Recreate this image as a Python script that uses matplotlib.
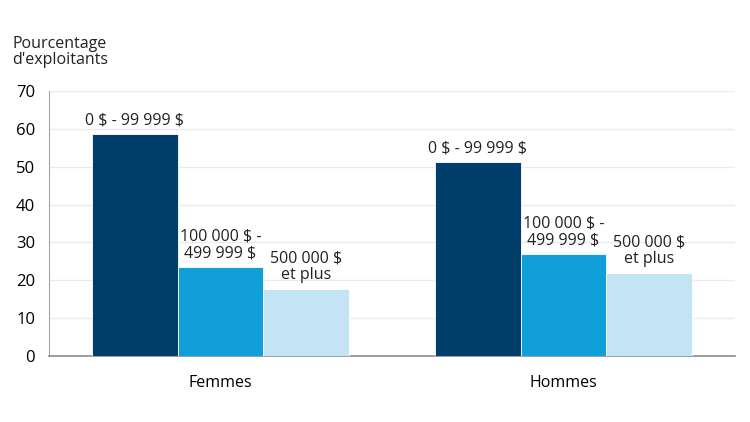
import matplotlib
matplotlib.use("Agg")
import matplotlib.pyplot as plt
import numpy as np

plt.rcParams['font.family'] = ['Open Sans', 'DejaVu Sans']

groups = ["Femmes", "Hommes"]
series_labels = ["0 $ - 99 999 $", "100 000 $ -\n499 999 $", "500 000 $\net plus"]
values = {
    "0 $ - 99 999 $": [58.6, 51.2],
    "100 000 $ -\n499 999 $": [23.5, 26.9],
    "500 000 $\net plus": [17.7, 21.9],
}
colors = ["#003F6B", "#109FD8", "#C2E4F5"]
yticks = [0, 10, 20, 30, 40, 50, 60, 70]

fig = plt.figure(figsize=(7.5, 4.22), dpi=100)
ax = fig.add_axes([0.0653, 0.1564, 0.9147, 0.628])

x = np.arange(len(groups))
w = 0.25
for i, lab in enumerate(series_labels):
    pos = x + (i - 1) * w
    vals = values[lab]
    ax.bar(pos, vals, width=w, color=colors[i], edgecolor="white", linewidth=0.6, zorder=3)
    for p, v in zip(pos, vals):
        ax.text(p, v + 1.5, lab, ha="center", va="bottom", fontsize=11.5,
                linespacing=1.05, color="#222222", zorder=4, parse_math=False)

ax.set_xlim(-0.5, 1.5)
ax.set_ylim(0, 70)
ax.set_yticks(yticks)
ax.set_xticks(x)
ax.set_xticklabels(groups, fontsize=11.5)
ax.tick_params(axis="y", length=0, labelsize=12, pad=10)
ax.tick_params(axis="x", length=0, pad=14)
ax.yaxis.grid(True, color="#EBEBEB", linewidth=1, zorder=0)
ax.set_axisbelow(True)
for s in ["top", "right"]:
    ax.spines[s].set_visible(False)
ax.spines["left"].set_color("#A6A6A6")
ax.spines["bottom"].set_color("#8C8C8C")
ax.spines["bottom"].set_linewidth(1.2)

fig.text(0.016, 0.838, "Pourcentage\nd'exploitants", fontsize=11.5, ha="left", va="bottom",
         linespacing=1.0, color="#222222")

fig.savefig("out.png", dpi=100)
